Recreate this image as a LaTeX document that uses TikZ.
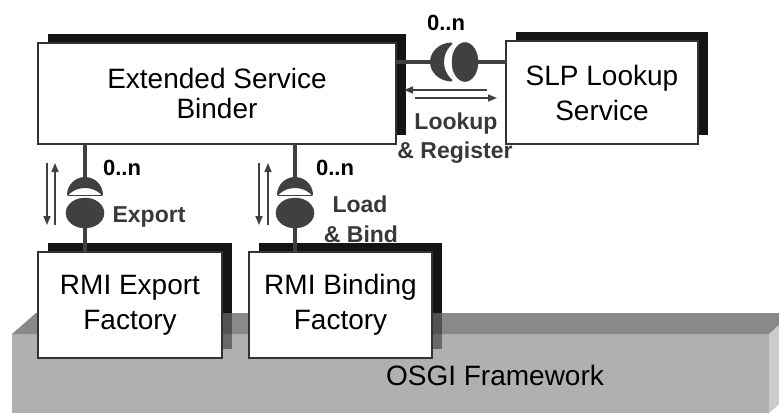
\documentclass[tikz,border=0pt]{standalone}
\usepackage{fontspec}
\setmainfont{Liberation Sans}
\usetikzlibrary{arrows.meta,shapes.geometric,calc}
\pgfdeclarelayer{bg}
\pgfsetlayers{bg,main}
\definecolor{connc}{HTML}{404040}
\definecolor{labc}{HTML}{383838}
\definecolor{shadc}{HTML}{141414}
\definecolor{topc}{HTML}{898989}
\definecolor{frontc}{HTML}{B0B0B0}
\definecolor{sidec}{HTML}{CBCBCB}
\begin{document}
\begin{tikzpicture}[x=1pt,y=-1pt,
  box/.style={draw=black!80, line width=1.1pt, fill=white, rectangle, inner sep=0pt, outer sep=0pt, align=center},
  conn/.style={draw=connc, line width=3.5pt},
  ball/.style={ellipse, fill=connc, draw=connc, line width=0.5pt, inner sep=0pt, outer sep=0pt},
  mult/.style={font=\bfseries\fontsize{22}{22}\selectfont, anchor=base, inner sep=0pt},
  lab/.style={font=\bfseries\fontsize{23}{23}\selectfont, text=labc, anchor=base, inner sep=0pt},
  flow/.style={draw=connc, line width=1.5pt, -{Triangle[length=9pt,width=7pt]}},
]
\useasboundingbox (0,0) rectangle (779,413);

% boxes
\node[box, minimum width=358pt, minimum height=101pt, font=\fontsize{28}{30}\selectfont] (bind) at (217,93.5) {Extended Service\\Binder};
\node[box, minimum width=192pt, minimum height=103pt, font=\fontsize{28}{35}\selectfont] (slp) at (602,92.5) {SLP Lookup\\Service};
\node[box, minimum width=184pt, minimum height=106pt, font=\fontsize{28}{35}\selectfont] (exp) at (130,305) {RMI Export\\Factory};
\node[box, minimum width=183pt, minimum height=106pt, font=\fontsize{28}{35}\selectfont] (bnd) at (340.5,305) {RMI Binding\\Factory};

% shadows and framework
\begin{pgfonlayer}{bg}
  \foreach \n in {bind,slp,exp,bnd}
    \fill[shadc] ([shift={(9.5,-9.5)}]\n.south west) rectangle ([shift={(9.5,-9.5)}]\n.north east);
  \fill[frontc] (12,334) rectangle (769,413);
  \fill[topc] (12,334) -- (36,313) -- (793,313) -- (769,334) -- cycle;
  \fill[sidec] (769,334) -- (793,313) -- (793,392) -- (769,413) -- cycle;
  \begin{scope}
    \clip (12,334) -- (36,313) -- (793,313) -- (793,413) -- (12,413) -- cycle;
    \foreach \n in {exp,bnd}
      \fill[black, opacity=0.4] ([shift={(9.5,-9.5)}]\n.south west) rectangle ([shift={(9.5,-9.5)}]\n.north east);
  \end{scope}
\end{pgfonlayer}
\node[font=\fontsize{28}{28}\selectfont, anchor=base, inner sep=0pt] (osgi) at (495,385) {OSGI Framework};

% ball-and-socket connectors
\coordinate (sT) at (452,62);
\coordinate (sL) at (85,195);
\coordinate (sR) at (295,195);
\node[ball, minimum width=26pt, minimum height=39pt] (ballT) at (465,62) {};
\node[ball, minimum width=38pt, minimum height=30pt] (ballL) at (85,213) {};
\node[ball, minimum width=38pt, minimum height=30pt] (ballR) at (295,213) {};

\draw[conn] (bind.east |- sT) -- ([xshift=-12pt]sT);
\draw[conn] (ballT.east) -- (ballT.east -| slp.west);
\draw[conn] (bind.south -| sL) -- ([yshift=12pt]sL);
\draw[conn] (ballL.south) -- (ballL.south |- exp.north);
\draw[conn] (bind.south -| sR) -- ([yshift=12pt]sR);
\draw[conn] (ballR.south) -- (ballR.south |- bnd.north);

\begin{scope}[shift={(sT)}]
  \clip (-30,-25) rectangle (0,25);
  \clip (0,0) ellipse [x radius=22pt, y radius=19.5pt];
  \fill[connc, even odd rule] (-30,-25) rectangle (0,25) (12,0) ellipse [x radius=20pt, y radius=22pt];
\end{scope}
\foreach \s in {sL,sR}{
  \begin{scope}[shift={(\s)}]
    \clip (-25,-25) rectangle (25,0);
    \clip (0,0) ellipse [x radius=18pt, y radius=18pt];
    \fill[connc, even odd rule] (-25,-25) rectangle (25,0) (0,13) ellipse [x radius=22pt, y radius=20pt];
  \end{scope}
}

% flow arrows
\coordinate (lrA) at (487,90);
\coordinate (lrB) at (404,90);
\coordinate (lrC) at (415,98);
\coordinate (lrD) at (497,98);
\draw[flow] (lrA) -- (lrB);
\draw[flow] (lrC) -- (lrD);
\coordinate (eA) at (47,163);
\coordinate (eB) at (47,225);
\coordinate (eC) at (55,225);
\coordinate (eD) at (55,163);
\draw[flow] (eA) -- (eB);
\draw[flow] (eC) -- (eD);
\coordinate (bA) at (259,163);
\coordinate (bB) at (259,225);
\coordinate (bC) at (268,225);
\coordinate (bD) at (268,163);
\draw[flow] (bA) -- (bB);
\draw[flow] (bC) -- (bD);

% labels
\node[mult] (mT) at (446,30) {0..n};
\node[mult] (mL) at (122,175) {0..n};
\node[mult] (mR) at (335,175) {0..n};
\node[lab] (lk1) at (456,129) {Lookup};
\node[lab] (lk2) at (455,158) {\& Register};
\node[lab] (ex) at (149,222) {Export};
\node[lab] (ld1) at (360,212) {Load};
\node[lab] (ld2) at (361,242) {\& Bind};
\end{tikzpicture}
\end{document}
